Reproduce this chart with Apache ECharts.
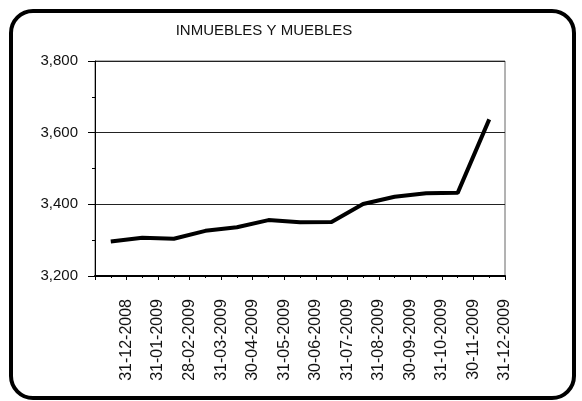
<!DOCTYPE html>
<html>
<head>
<meta charset="utf-8">
<script src="https://cdn.jsdelivr.net/npm/echarts@6/dist/echarts.min.js"></script>
<style>
html, body { margin: 0; padding: 0; background: #fff; }
#chart { width: 582px; height: 401px; }
</style>
</head>
<body>
<div id="chart"></div>
<script>
var dates = ['31-12-2008', '31-01-2009', '28-02-2009', '31-03-2009', '30-04-2009', '31-05-2009',
	'30-06-2009', '31-07-2009', '31-08-2009', '30-09-2009', '31-10-2009', '30-11-2009', '31-12-2009'];
var values = [3296, 3307, 3304, 3326, 3336, 3356, 3350, 3351, 3401, 3421, 3431, 3432, 3637];
var yTicks = [3200, 3400, 3600, 3800];

var font = 'Liberation Sans, Arial, sans-serif';

// points sit in the middle of each category, dates on the right edge of it
var points = values.map(function(v, i) { return [i + 0.5, v]; });

var chart = echarts.init(document.getElementById('chart'));
chart.setOption({
	animation: false,
	title: {
		text: 'INMUEBLES Y MUEBLES',
		left: 259,
		top: 18,
		textAlign: 'center',
		textStyle: { fontFamily: font, fontSize: 15, fontWeight: 'normal', color: '#111' }
	},
	graphic: [{
		type: 'rect',
		shape: { x: 11, y: 11, width: 563, height: 387, r: 22 },
		style: { fill: 'none', stroke: '#000', lineWidth: 4 },
		silent: true
	}],
	grid: {
		left: 95,
		right: 77,
		top: 61,
		bottom: 125,
		show: true,
		borderColor: '#666',
		borderWidth: 1
	},
	xAxis: {
		type: 'value',
		min: 0,
		max: dates.length,
		interval: 1,
		axisLine: { show: true, lineStyle: { color: '#000', width: 2 } },
		axisTick: { show: true, length: 4, lineStyle: { color: '#000' } },
		minorTick: { show: true, splitNumber: 2, length: 2, lineStyle: { color: '#000' } },
		splitLine: { show: false },
		axisLabel: {
			rotate: 90,
			margin: 23,
			fontFamily: font,
			fontSize: 16,
			color: '#111',
			formatter: function(v) { return v >= 1 ? dates[v - 1] : ''; }
		}
	},
	yAxis: {
		type: 'value',
		min: yTicks[0],
		max: yTicks[yTicks.length - 1],
		interval: 200,
		axisLine: { show: true, lineStyle: { color: '#000', width: 1 } },
		axisTick: { show: true, length: 7, lineStyle: { color: '#000' } },
		minorTick: { show: true, splitNumber: 2, length: 3, lineStyle: { color: '#000' } },
		splitLine: { show: true, lineStyle: { color: '#222', width: 1 } },
		axisLabel: {
			margin: 17,
			fontFamily: font,
			fontSize: 15,
			color: '#111',
			formatter: function(v) { return echarts.format.addCommas(v); }
		}
	},
	series: [{
		type: 'line',
		data: points,
		showSymbol: false,
		lineStyle: { color: '#000', width: 4 }
	}]
});
</script>
</body>
</html>
